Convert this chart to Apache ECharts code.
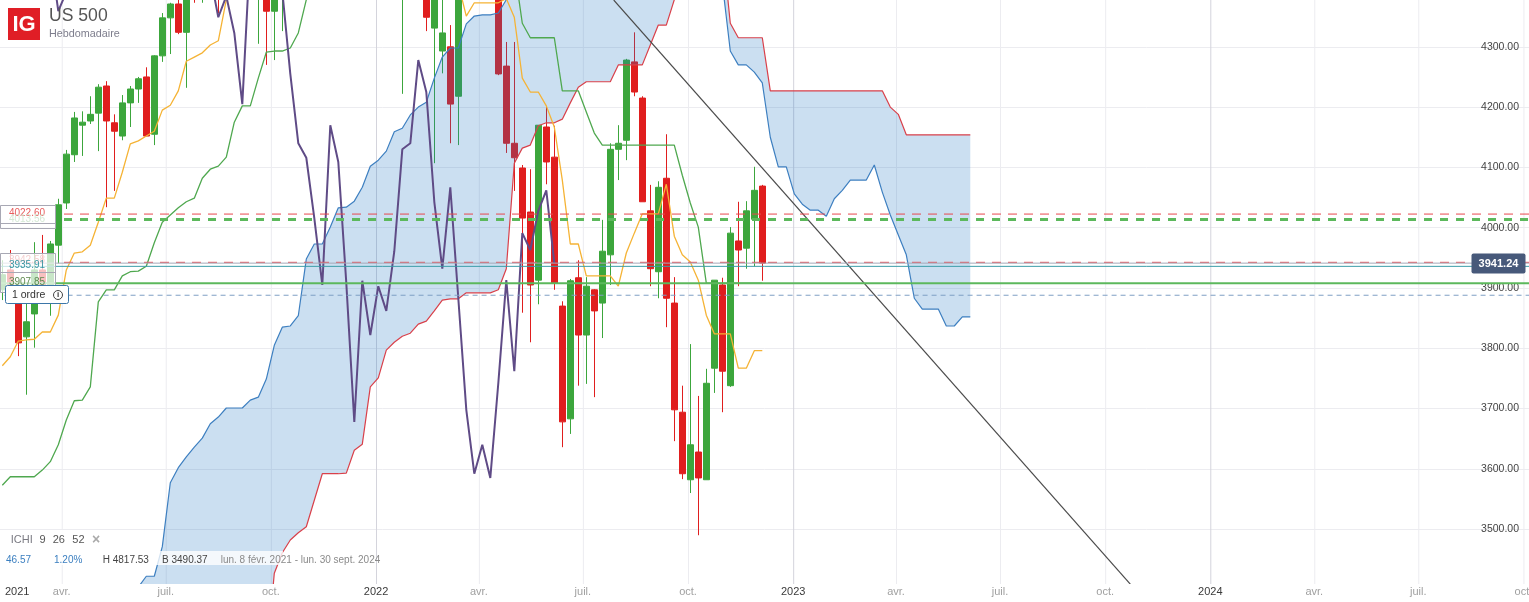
<!DOCTYPE html>
<html><head><meta charset="utf-8">
<style>html,body{margin:0;padding:0;background:#fff}#c{width:1529px;height:602px}</style>
<script src="https://cdn.jsdelivr.net/npm/echarts@6/dist/echarts.min.js"></script>
</head><body><div id="c"></div>
<script>
const startDate = '2021-02-08';
const opens = [3897,3930,3880,3819,3857,3930,3900,3971,4041,4121,4170,4177,4190,4235,4174,4152,4207,4230,4250,4155,4285,4348,4371,4324,4420,4395,4436,4468,4441,4509,4535,4458,4432,4455,4359,4391,4471,4544,4605,4697,4682,4697,4594,4538,4712,4620,4725,4766,4677,4662,4397,4431,4500,4418,4331,4293,4300,4218,4463,4543,4545,4488,4392,4268,4140,4099,4026,3913,4167,4117,3870,3683,3917,3822,3897,3875,3955,4130,4145,4275,4215,4028,3927,4082,3875,3694,3582,3628,3582,3767,3905,3738,3978,3966,4014,4069];
const closes = [3922,3893,3809,3844,3930,3900,3973,4038,4122,4182,4175,4188,4233,4177,4160,4207,4230,4247,4152,4285,4348,4371,4324,4384,4395,4436,4468,4441,4509,4535,4458,4432,4455,4359,4391,4471,4544,4605,4697,4682,4697,4594,4538,4712,4620,4725,4766,4677,4662,4397,4431,4500,4418,4349,4384,4323,4205,4463,4543,4545,4488,4392,4255,4140,4116,4016,3905,4170,4109,3908,3678,3912,3822,3903,3862,3961,4130,4140,4278,4225,4043,3932,4067,3883,3698,3592,3640,3585,3742,3913,3762,3991,3963,4028,4062,3941.24];
const lows = [3880,3880,3787,3723,3801,3880,3854,3941,4031,4109,4119,4172,4127,4034,4061,4145,4167,4207,4152,4137,4275,4288,4321,4232,4373,4373,4425,4356,4430,4500,4445,4420,4305,4270,4278,4326,4455,4530,4595,4650,4660,4585,4495,4530,4530,4530,4720,4660,4580,4395,4222,4430,4400,4326,4107,4256,4140,4137,4445,4500,4475,4385,4253,4124,4061,3859,3810,3873,4072,3897,3636,3658,3738,3741,3719,3817,3905,4079,4112,4218,4043,3903,3883,3835,3646,3583,3560,3490,3582,3726,3694,3736,3903,3932,3936,3912];
const highs = [3946,3963,3888,3880,3976,3988,3978,4048,4129,4192,4193,4218,4238,4243,4188,4220,4235,4250,4266,4286,4356,4373,4386,4391,4430,4442,4480,4470,4515,4545,4550,4480,4465,4470,4410,4480,4552,4610,4718,4705,4715,4745,4650,4715,4730,4740,4808,4817,4748,4665,4453,4595,4555,4450,4390,4415,4336,4475,4552,4640,4595,4495,4510,4308,4308,4104,4097,4170,4202,4169,3878,3915,3946,3918,3898,4013,4140,4170,4280,4324,4218,4071,4077,4155,3918,3738,3807,3721,3766,3913,3917,4001,4043,4044,4101,4071];
const tenkan = [3771,3786,3812,3814,3815,3827,3827,3855,3930,3958,3960,3971,4009,4049,4049,4092,4139,4144,4152,4160,4195,4203,4227,4276,4283,4290,4303,4310,4378,4420,4445,4450,4450,4450,4440,4420,4440,4490,4530,4570,4590,4590,4590,4610,4610,4615,4630,4650,4650,4610,4610,4610,4610,4590,4560,4545,4480,4404,4351,4373,4373,4373,4373,4380,4349,4248,4225,4225,4202,4167,4079,3973,3973,3920,3920,3920,3920,3903,3958,3991,4023,4023,4023,4072,3986,3955,3943,3913,3855,3824,3824,3824,3767,3767,3796,3796];
const kijun = [3573,3587,3587,3587,3587,3598,3612,3640,3681,3713,3714,3736,3877,3897,3897,3920,3927,3928,3936,3975,4009,4021,4033,4043,4049,4082,4097,4102,4117,4175,4202,4202,4248,4291,4293,4293,4298,4323,4378,4400,4420,4430,4440,4440,4480,4490,4500,4520,4540,4550,4570,4570,4570,4570,4590,4590,4590,4590,4590,4590,4590,4590,4590,4540,4432,4339,4315,4315,4315,4315,4227,4227,4227,4192,4157,4137,4137,4137,4137,4137,4137,4137,4137,4137,4137,4087,4041,4001,3908,3908,3908,3908,3908,3908,3908,3908];
const spanFirstWeek = 10;
const spanA = [3290,3310,3330,3340,3355,3370,3385,3404,3422,3422,3471,3577,3602,3620,3636,3651,3675,3686,3701,3701,3701,3714,3719,3749,3805,3835,3837,3854,3948,3973,3973,4001,4033,4034,4044,4067,4102,4112,4127,4159,4165,4187,4200,4208,4248,4283,4298,4298,4338,4351,4353,4353,4356,4378,4430,4460,4490,4500,4520,4540,4560,4580,4600,4610,4620,4620,4610,4600,4590,4580,4570,4560,4550,4540,4530,4520,4510,4500,4490,4440,4406,4293,4270,4270,4258,4240,4150,4101,4101,4056,4039,4029,4029,4019,4048,4062,4079,4079,4079,4104,4059,4021,3988,3955,3883,3865,3865,3865,3837,3837,3852,3852];
const spanB = [3150,3150,3160,3170,3180,3190,3200,3210,3220,3240,3250,3255,3260,3265,3270,3272,3274,3276,3278,3280,3280,3280,3280,3280,3427,3461,3482,3494,3504,3548,3592,3592,3592,3593,3631,3641,3736,3751,3797,3810,3820,3825,3840,3845,3862,3880,3882,3882,3892,3892,3892,3892,3897,3932,4107,4132,4137,4169,4174,4174,4180,4207,4233,4242,4242,4242,4242,4270,4270,4270,4270,4303,4336,4336,4378,4420,4450,4500,4490,4480,4470,4339,4315,4315,4315,4315,4227,4227,4227,4227,4227,4227,4227,4227,4227,4227,4227,4227,4227,4227,4227,4200,4188,4154,4154,4154,4154,4154,4154,4154,4154,4154];
const trendDates = ['2022-07-28','2023-10-23'];
const trendValues = [4377.5,3409];
const levelValues = [4022.60,4013.56,3942.58,3941.24,3935.91,3907.85,3888];
const levelStarts = ['2021-04-03','2021-04-03','2021-04-03','2021-02-06','2021-02-06','2021-02-06','2021-02-10'];
const levelColors = ['#e8474c','#5cb85c','#e8474c','#a4a8b8','#3a9ca8','#5cb85c','#7f9fc4'];
const levelWidths = [1,3,1,1,1,2,1];
const levelDashes = [[9,7],[8,8],[9,7],null,null,null,[5,4]];
const tickDates = ['2021-02-21','2021-04-01','2021-07-01','2021-10-01','2022-01-01','2022-04-01','2022-07-01','2022-10-01','2023-01-01','2023-04-01','2023-07-01','2023-10-01','2024-01-01','2024-04-01','2024-07-01','2024-10-01'];
const tickLabels = ['2021','avr.','juil.','oct.','2022','avr.','juil.','oct.','2023','avr.','juil.','oct.','2024','avr.','juil.','oct.'];

const WEEK = 7*864e5, T0 = Date.parse(startDate);
const wk = k => T0 + k*WEEK;
const yMin = 3400, yMax = 4400;
const xMin = wk(-2.3/8), xMax = xMin + 1529/8*WEEK;
const tickTimes = tickDates.map(d => Date.parse(d));
const isYear = t => /^\d{4}$/.test(tickLabels[tickTimes.indexOf(t)]);
const lineS = (name, arr, first, color, width, z) => ({
  type:'line', name, data: arr.map((v,i)=>[wk(i+first),v]), showSymbol:false, silent:true, z,
  lineStyle:{color, width}, clip:true
});
const font = '"Liberation Sans", Arial, sans-serif';
const text = (x,y,s,size,fill,extra) => ({type:'text', x, y, z:100, silent:true, style:Object.assign({text:s, font:`${size}px ${font}`, fill, textVerticalAlign:'middle', textAlign:'left'}, extra||{})});
const rect = (x,y,w,h,fill,stroke,r) => ({type:'rect', z:90, silent:true, shape:{x,y,width:w,height:h,r:r||0}, style:{fill, stroke:stroke||'none', lineWidth:1}});
const hline = (x1,x2,y,c) => ({type:'line', z:95, silent:true, shape:{x1,y1:y,x2,y2:y}, style:{stroke:c,lineWidth:1}});

const cloudSeries = {
  type:'custom', coordinateSystem:'cartesian2d', silent:true, z:3, clip:true,
  data:[[wk(spanFirstWeek), spanA[0]]], encode:{x:0,y:1},
  renderItem:(p,api)=>{
    const up = spanA.map((v,i)=>api.coord([wk(i+spanFirstWeek),v]));
    const dn = spanB.map((v,i)=>api.coord([wk(i+spanFirstWeek),v])).reverse();
    return {type:'polygon', shape:{points:up.concat(dn)}, style:{fill:'rgba(30,117,195,0.23)'}};
  }
};
const gridSeries = {
  type:'custom', coordinateSystem:'cartesian2d', silent:true, z:0, clip:true,
  data:tickTimes.slice(1).map(t=>[t,yMin]), encode:{x:0,y:1},
  renderItem:(p,api)=>{
    const t = api.value(0), a = api.coord([t,yMin]), b = api.coord([t,yMax]);
    return {type:'line', shape:{x1:a[0]+0.5,y1:a[1],x2:b[0]+0.5,y2:b[1]}, style:{stroke:isYear(t)?'#d4d4dc':'#ececf0',lineWidth:1}};
  }
};
const levels = levelValues.map((v,i)=>({
  type:'line', data:[[Date.parse(levelStarts[i]),v],[xMax,v]], showSymbol:false, silent:true, z:6,
  lineStyle:{color:levelColors[i], width:levelWidths[i], type:levelDashes[i]||'solid'}
}));
const chart = echarts.init(document.getElementById('c'),null,{renderer:'canvas'});
chart.setOption({
  animation:false,
  backgroundColor:'#fff',
  grid:{left:0,right:0,top:-13.5,bottom:12.5,containLabel:false,outerBoundsMode:'none'},
  xAxis:{type:'value', min:xMin, max:xMax, scale:true, z:60,
    axisLine:{show:false}, axisTick:{show:false}, splitLine:{show:false},
    axisLabel:{customValues:tickTimes, margin:-3, hideOverlap:false, showMinLabel:true, showMaxLabel:true,
      formatter:v=>{const s=tickLabels[tickTimes.indexOf(v)]; return /^\d{4}$/.test(s)?`{y|${s}}`:`{m|${s}}`;},
      rich:{y:{color:'#3a3a3a',fontSize:11,fontFamily:font},m:{color:'#a0a0a0',fontSize:11,fontFamily:font}}}},
  yAxis:{type:'value', position:'right', min:yMin, max:yMax, interval:100, scale:true,
    axisLine:{show:false}, axisTick:{show:false},
    splitLine:{show:true,lineStyle:{color:'#ececf0',width:1}},
    axisLabel:{inside:true, margin:10, color:'#444', fontSize:10.5, fontFamily:font, showMinLabel:false, showMaxLabel:false,
      formatter:v=>v.toFixed(2)}},
  series:[
    gridSeries,
    {type:'candlestick', silent:true, z:2, barWidth:7, encode:{x:0,y:[1,2,3,4]},
      data:opens.map((o,i)=>[wk(i),o,closes[i],lows[i],highs[i]]),
      itemStyle:{color:'#3ca63c',color0:'#e01e1e',borderColor:'#3ca63c',borderColor0:'#e01e1e',borderWidth:1}},
    cloudSeries,
    lineS('Span A',spanA,spanFirstWeek,'#3d7fc0',1.2,4),
    lineS('Span B',spanB,spanFirstWeek,'#d9404a',1.2,4),
    lineS('Tenkan',tenkan,0,'#f5b335',1.3,4),
    lineS('Kijun',kijun,0,'#4fa84f',1.3,4),
    {type:'line', name:'Chikou', data:closes.slice(26).map((v,i)=>[wk(i),v]), showSymbol:false, silent:true, z:5, lineStyle:{color:'#5f4b86',width:2}},
    {type:'line', name:'Trend', data:trendDates.map((d,i)=>[Date.parse(d),trendValues[i]]), showSymbol:false, silent:true, z:6, lineStyle:{color:'#4a4a4a',width:1.2}},
    ...levels
  ],
  graphic:[
    Object.assign(rect(0,584,1529,18,'#fff'),{z:40}),
    rect(8,8,32,32,'#e01e26'),
    text(24,24.5,'IG',22,'#fff',{font:`bold 22px ${font}`,textAlign:'center'}),
    text(49,16.5,'US 500',17.6,'#555'),
    text(49,34,'Hebdomadaire',10.8,'#7d7d8c'),
    rect(0.5,205.5,55,23,'rgba(255,255,255,0.8)','#a8a8b4'),
    hline(0,55,223.5,'#a8a8b4'),
    text(27,213,'4022.60',10,'#e85c5c',{textAlign:'center'}),
    text(27,219.5,'4013.56',10,'#d4e9d4',{textAlign:'center'}),
    rect(0.5,253.5,55,39,'rgba(255,255,255,0.72)','#a8a8b4'),
    hline(0,55,272.5,'#a8a8b4'),
    text(27,260,'3942.58',10,'#f4d0d0',{textAlign:'center'}),
    text(27,265.5,'3935.91',10,'#3a96a3',{textAlign:'center'}),
    text(27,282.5,'3907.85',10,'#5f8a50',{textAlign:'center'}),
    rect(5.5,285.5,63,18,'#fff','#3b76a8',2),
    text(12,295,'1 ordre',10.5,'#333'),
    {type:'circle',z:96,silent:true,shape:{cx:58,cy:295,r:4.5},style:{fill:'#fff',stroke:'#444',lineWidth:1}},
    text(58,295,'i',8,'#333',{textAlign:'center',font:`bold 8px ${font}`}),
    rect(1471.5,253.5,54,20,'#47597a',null,2),
    text(1498.5,263.5,'3941.24',11,'#fff',{textAlign:'center',font:`bold 11px ${font}`}),
    rect(0,530,108,21,'rgba(255,255,255,0.9)'),
    rect(0,551,283,14,'rgba(255,255,255,0.78)'),
    text(10.7,540,'ICHI',11,'#7a7a82'),
    text(39.5,540,'9',11,'#555'),
    text(52.7,540,'26',11,'#555'),
    text(72.3,540,'52',11,'#555'),
    text(96,540,'×',14,'#aaa',{textAlign:'center',font:`bold 14px ${font}`}),
    text(6,560,'46.57',10,'#3b7fc0'),
    text(54,560,'1.20%',10,'#3b7fc0'),
    text(102.7,560,'H 4817.53',10,'#444'),
    text(162,560,'B 3490.37',10,'#444'),
    text(220.7,560,'lun. 8 févr. 2021 - lun. 30 sept. 2024',10,'#8a8a8a')
  ]
});
</script></body></html>
